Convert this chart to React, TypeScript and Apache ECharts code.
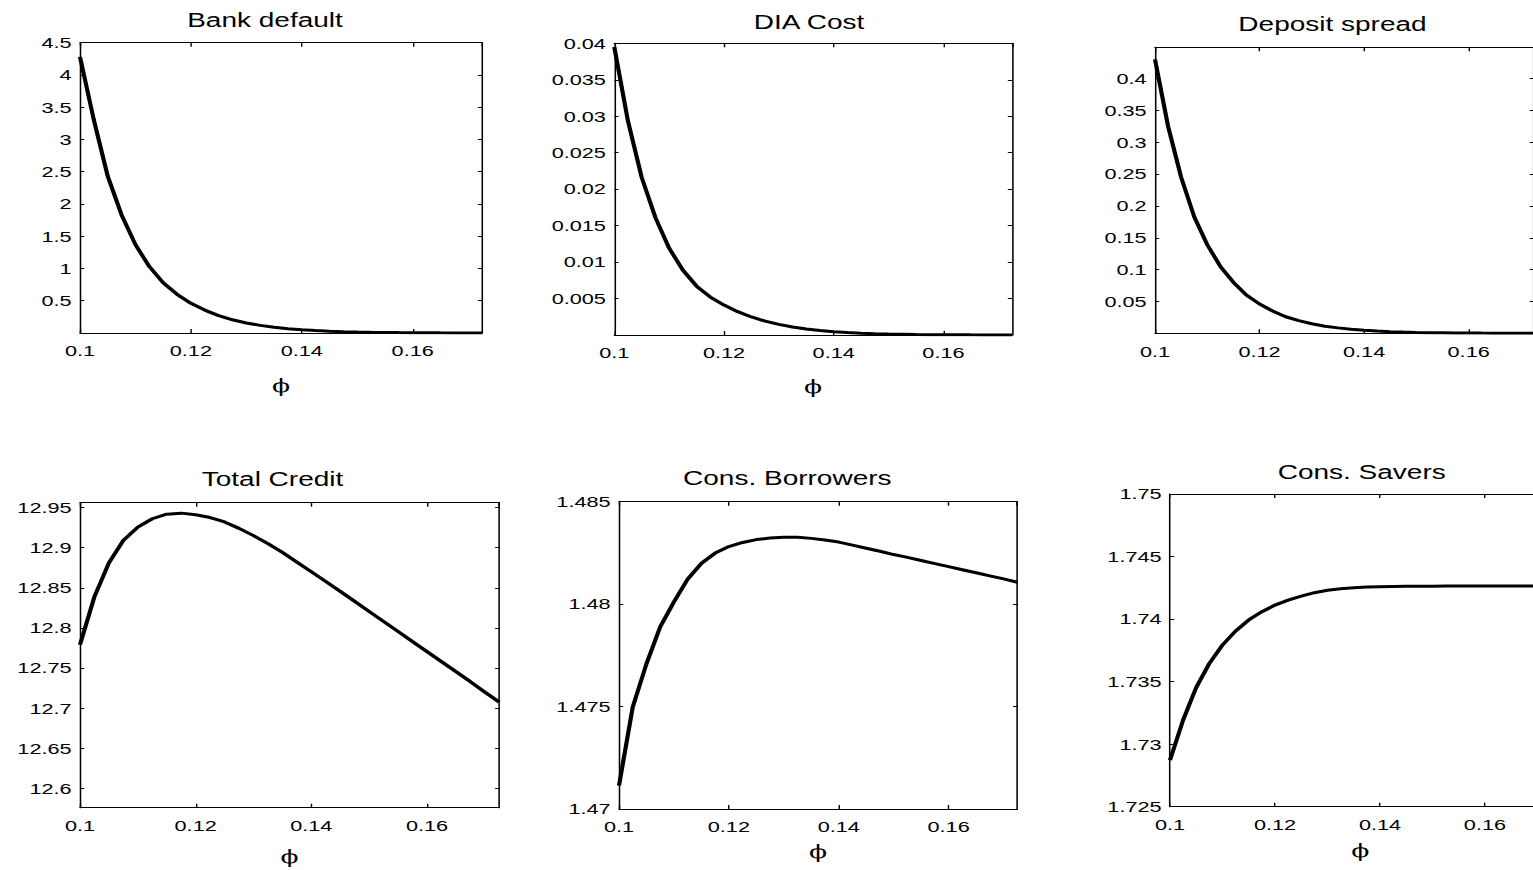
import React, { useEffect, useRef } from "react";
import * as echarts from "echarts";

// ---------- data ----------
const phiGrid = [
  0.1, 0.1025, 0.105, 0.1075, 0.11, 0.1125, 0.115, 0.1175, 0.12, 0.1225,
  0.125, 0.1275, 0.13, 0.1325, 0.135, 0.1375, 0.14, 0.1425, 0.145, 0.1475,
  0.15, 0.1525, 0.155, 0.1575, 0.16, 0.1625, 0.165, 0.1675, 0.17, 0.1725,
];

const bankDefault = [
  4.28, 3.3, 2.43, 1.83, 1.37, 1.03, 0.78, 0.6, 0.46, 0.355,
  0.27, 0.205, 0.155, 0.118, 0.089, 0.067, 0.05, 0.037, 0.028, 0.021,
  0.0155, 0.0115, 0.0085, 0.0063, 0.0047, 0.0035, 0.0026, 0.0019, 0.0014, 0.001,
];

const diaCost = [
  0.0395, 0.0293, 0.0216, 0.0161, 0.0119, 0.0089, 0.0067, 0.0052, 0.0041, 0.0032,
  0.00247, 0.0019, 0.00146, 0.0011, 0.00083, 0.00062, 0.00046, 0.00034, 0.00025, 0.00018,
  0.00013, 0.0001, 0.00007, 0.00005, 0.00004, 0.00003, 0.00002, 0.000015, 0.00001, 0.000008,
];

const depositSpread = [
  0.43, 0.325, 0.245, 0.183, 0.139, 0.105, 0.08, 0.06, 0.046, 0.035,
  0.026, 0.02, 0.015, 0.011, 0.0085, 0.0063, 0.0047, 0.0035, 0.0026, 0.0019,
  0.0014, 0.001, 0.0008, 0.0006, 0.00045, 0.00033, 0.00025, 0.00018, 0.00014, 0.0001,
];

const totalCredit = [
  12.779, 12.839, 12.881, 12.909, 12.9255, 12.936, 12.9417, 12.943, 12.941, 12.9375,
  12.932, 12.924, 12.915, 12.905, 12.894, 12.882, 12.87, 12.8578, 12.8455, 12.833,
  12.8205, 12.808, 12.7955, 12.783, 12.7705, 12.758, 12.7455, 12.733, 12.72, 12.7075,
];

const consBorrowers = [
  1.47114, 1.47497, 1.47709, 1.47889, 1.48011, 1.48122, 1.48199, 1.48249, 1.48281, 1.48301,
  1.48315, 1.48323, 1.48327, 1.48326, 1.48321, 1.48313, 1.48303, 1.48288, 1.48273, 1.48258,
  1.48242, 1.48228, 1.48213, 1.48198, 1.48183, 1.48168, 1.48153, 1.48138, 1.48123, 1.48107,
];

const consSavers = [
  1.72873, 1.73193, 1.73454, 1.73646, 1.73793, 1.73905, 1.73993, 1.74059, 1.74112, 1.74152,
  1.74184, 1.74211, 1.7423, 1.74243, 1.74251, 1.74256, 1.74259, 1.74261, 1.74262, 1.74263,
  1.74263, 1.74264, 1.74264, 1.74264, 1.74264, 1.74264, 1.74264, 1.74264, 1.74264, 1.74264,
];

const titles = ["Bank default", "DIA Cost", "Deposit spread", "Total Credit", "Cons. Borrowers", "Cons. Savers"];
const seriesData = [bankDefault, diaCost, depositSpread, totalCredit, consBorrowers, consSavers];

// x axis: [min, max, tick step]
const xRange = [0.1, 0.1725, 0.02];
// y axes: [min, max, tick step]
const yRanges = [
  [0, 4.5, 0.5],
  [0, 0.04, 0.005],
  [0, 0.449, 0.05],
  [12.576, 12.956, 0.05],
  [1.47, 1.485, 0.005],
  [1.725, 1.75, 0.005],
];
const yShowMin = [false, false, false, false, true, true];
const yShowMax = [true, true, false, false, true, true];
const xAxisName = ["ϕ", "ϕ", "", "ϕ", "ϕ", "ϕ"];

// ---------- layout (page pixels; the picture is stretched horizontally) ----------
const S = 1.4;
const W = 1533;
const H = 870;
const boxes = [
  { l: 80, r: 482, t: 42.7, b: 333, tx: 265, ty: 19.7, gap: 52 },
  { l: 614.3, r: 1012, t: 43.3, b: 335, tx: 809, ty: 21.7, gap: 51.5 },
  { l: 1155, r: 1534, t: 47.3, b: 333.3, tx: 1332.5, ty: 24.5, gap: 50 },
  { l: 80, r: 499.3, t: 502.7, b: 807.7, tx: 272.5, ty: 479, gap: 49 },
  { l: 619, r: 1017.3, t: 501.7, b: 809, tx: 787.3, ty: 478.2, gap: 42 },
  { l: 1170, r: 1550.6, t: 494, b: 806.7, tx: 1361.7, ty: 471.7, gap: 44 },
];

const FONT = "'Liberation Sans', Arial, Helvetica, sans-serif";

function buildOption() {
  const grid: any[] = [];
  const xAxis: any[] = [];
  const yAxis: any[] = [];
  const series: any[] = [];
  const graphic: any[] = [];

  boxes.forEach((bx, i) => {
    grid.push({
      left: bx.l / S,
      top: bx.t,
      width: (bx.r - bx.l) / S,
      height: bx.b - bx.t,
      outerBoundsMode: "none",
      containLabel: false,
      show: false,
    });
    const axisLine = { show: true, onZero: false, lineStyle: { color: "#000", width: 1.1 } };
    const [xmin, xmax, xstep] = xRange;
    const [ymin, ymax, ystep] = yRanges[i];
    const xBase = {
      type: "value",
      gridIndex: i,
      min: xmin,
      max: xmax,
      minInterval: xstep,
      maxInterval: xstep,
      axisLine,
      splitLine: { show: false },
      axisTick: { show: true, inside: true, length: 4, lineStyle: { color: "#000", width: 1 } },
    };
    xAxis.push({
      ...xBase,
      position: "bottom",
      name: xAxisName[i],
      nameLocation: "middle",
      nameGap: bx.gap,
      nameTextStyle: {
        fontFamily: "'DejaVu Serif', serif",
        fontSize: 19,
        color: "#000",
        verticalAlign: "middle",
      },
      axisLabel: {
        show: true,
        margin: 10,
        color: "#000",
        fontFamily: FONT,
        fontSize: 15.5,
        showMinLabel: true,
        showMaxLabel: false,
      },
    });
    xAxis.push({ ...xBase, position: "top", axisLabel: { show: false } });

    const yBase = {
      type: "value",
      gridIndex: i,
      min: ymin,
      max: ymax,
      minInterval: ystep,
      maxInterval: ystep,
      axisLine,
      splitLine: { show: false },
      axisTick: { show: true, inside: true, length: 3, lineStyle: { color: "#000", width: 1 } },
    };
    yAxis.push({
      ...yBase,
      position: "left",
      axisLabel: {
        show: true,
        margin: 6,
        color: "#000",
        fontFamily: FONT,
        fontSize: 15.5,
        showMinLabel: yShowMin[i],
        showMaxLabel: yShowMax[i],
      },
    });
    yAxis.push({ ...yBase, position: "right", axisLabel: { show: false } });

    series.push({
      type: "line",
      xAxisIndex: 2 * i,
      yAxisIndex: 2 * i,
      data: phiGrid.map((x, j) => [x, seriesData[i][j]]),
      showSymbol: false,
      symbol: "none",
      lineStyle: { color: "#000", width: 3 },
      silent: true,
    });

    graphic.push({
      type: "text",
      x: bx.tx / S,
      y: bx.ty,
      style: {
        text: titles[i],
        fill: "#000",
        font: `20px ${FONT}`,
        align: "center",
        verticalAlign: "middle",
      },
      silent: true,
    });
  });

  return {
    animation: false,
    backgroundColor: "#fff",
    grid,
    xAxis,
    yAxis,
    series,
    graphic,
  };
}

export default function App() {
  const ref = useRef<HTMLDivElement | null>(null);
  useEffect(() => {
    if (!ref.current) return;
    const chart = echarts.init(ref.current, null, { renderer: "svg" });
    chart.setOption(buildOption() as any);
    return () => chart.dispose();
  }, []);
  return (
    <div
      style={{
        position: "fixed",
        left: 0,
        top: 0,
        width: W,
        height: H,
        overflow: "hidden",
        background: "#fff",
      }}
    >
      <div
        ref={ref}
        style={{
          width: W / S,
          height: H,
          transform: `scaleX(${S})`,
          transformOrigin: "0 0",
        }}
      />
    </div>
  );
}
